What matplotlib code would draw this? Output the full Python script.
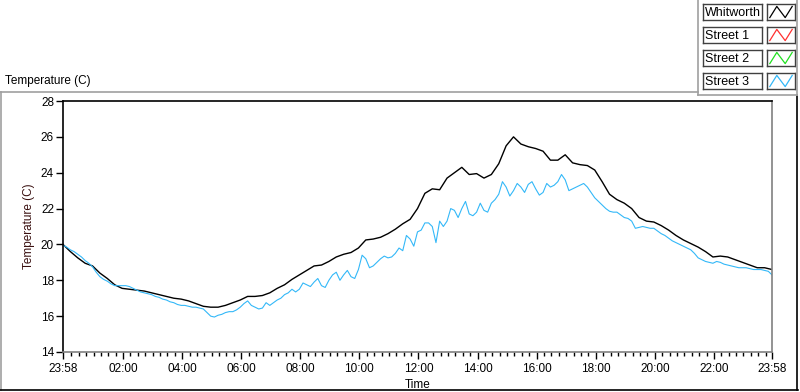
import numpy as np
import matplotlib
matplotlib.use("Agg")
import matplotlib.pyplot as plt
from matplotlib.lines import Line2D

plt.rcParams['font.family'] = ['Liberation Sans', 'DejaVu Sans']

# hours since 23:58, one reading every 15 min
hours = np.arange(0, 24.01, 0.25)

whitworth = [
    20.0, 19.6, 19.25, 18.95, 18.8, 18.4, 18.1, 17.75, 17.55, 17.5,
    17.45, 17.4, 17.3, 17.2, 17.1, 17.0, 16.95, 16.85, 16.7, 16.55,
    16.5, 16.5, 16.6, 16.75, 16.9, 17.1, 17.1, 17.15, 17.3, 17.55,
    17.75, 18.05, 18.3, 18.55, 18.8, 18.85, 19.05, 19.3, 19.45, 19.55,
    19.8, 20.25, 20.3, 20.4, 20.6, 20.85, 21.15, 21.4, 22.0, 22.85,
    23.1, 23.05, 23.7, 24.0, 24.3, 23.9, 23.95, 23.7, 23.9, 24.5,
    25.5, 26.0, 25.6, 25.45, 25.35, 25.2, 24.7, 24.7, 25.0, 24.55,
    24.45, 24.4, 24.15, 23.5, 22.8, 22.5, 22.3, 22.0, 21.5, 21.3,
    21.25, 21.05, 20.8, 20.5, 20.25, 20.05, 19.85, 19.6, 19.3, 19.35,
    19.3, 19.15, 19.0, 18.85, 18.7, 18.7, 18.6,
]

# street 3 on the quarter hours ...
street3 = [
    19.95, 19.7, 19.45, 19.1, 18.75, 18.2, 17.95, 17.7, 17.7, 17.65,
    17.45, 17.3, 17.2, 17.05, 16.9, 16.75, 16.6, 16.55, 16.5, 16.4,
    16.0, 16.05, 16.2, 16.25, 16.5, 16.85, 16.5, 16.45, 16.6, 16.9,
    17.2, 17.5, 17.5, 17.75, 17.9, 17.7, 18.0, 18.45, 18.3, 18.2,
    18.6, 19.2, 18.8, 19.2, 19.25, 19.5, 19.65, 20.3, 20.7, 21.2,
    21.0, 21.3, 21.3, 21.9, 22.0, 21.7, 21.8, 21.9, 22.3, 22.8,
    23.2, 23.0, 23.2, 23.35, 23.1, 22.9, 23.2, 23.5, 23.6, 23.1,
    23.3, 23.2, 22.6, 22.2, 21.85, 21.8, 21.5, 21.3, 20.95, 20.95,
    20.9, 20.6, 20.35, 20.1, 19.9, 19.7, 19.25, 19.05, 18.95, 19.0,
    18.85, 18.75, 18.7, 18.65, 18.6, 18.55, 18.3,
]
# ... and the readings in between (xx:07 / xx:22 / ...)
street3_mid = [
    19.85, 19.6, 19.3, 18.95, 18.45, 18.05, 17.8, 17.7, 17.7, 17.55,
    17.35, 17.25, 17.1, 16.95, 16.8, 16.65, 16.6, 16.5, 16.45, 16.2,
    15.95, 16.1, 16.25, 16.35, 16.7, 16.6, 16.4, 16.75, 16.75, 17.0,
    17.3, 17.35, 17.85, 17.65, 18.1, 17.6, 18.3, 18.0, 18.55, 18.1,
    19.4, 18.7, 19.0, 19.35, 19.3, 19.8, 20.5, 19.9, 20.8, 21.2,
    20.1, 21.0, 22.0, 21.5, 22.4, 21.6, 22.3, 21.8, 22.5, 23.5,
    22.7, 23.4, 22.9, 23.5, 22.75, 23.4, 23.3, 23.9, 23.0, 23.2,
    23.4, 22.9, 22.4, 22.0, 21.8, 21.65, 21.45, 20.9, 21.0, 20.9,
    20.75, 20.5, 20.2, 20.0, 19.8, 19.5, 19.15, 19.0, 19.05, 18.9,
    18.8, 18.7, 18.7, 18.6, 18.6, 18.5,
]

series_names = ["Whitworth", "Street 1", "Street 2", "Street 3"]
series_colors = ["black", "#ff3030", "#20e020", "#33b8f8"]

time_labels = ["23:58", "02:00", "04:00", "06:00", "08:00", "10:00", "12:00",
               "14:00", "16:00", "18:00", "20:00", "22:00", "23:58"]
temp_ticks = [14, 16, 18, 20, 22, 24, 26, 28]

W, H = 800, 392


def px(x, y):
    # pixel coords (top-left origin) -> figure fraction
    return x / W, 1 - y / H


# interleave the street 3 readings
s3_t = np.empty(len(street3) + len(street3_mid))
s3_v = np.empty_like(s3_t)
s3_t[0::2] = hours
s3_t[1::2] = hours[:-1] + 0.125
s3_v[0::2] = street3
s3_v[1::2] = street3_mid

fig = plt.figure(figsize=(8, 3.92), dpi=100)


def frame_line(xs, ys, col):
    fx = [px(x, 0)[0] for x in xs]
    fy = [px(0, y)[1] for y in ys]
    fig.add_artist(Line2D(fx, fy, color=col, lw=1.2, transform=fig.transFigure))


# outer panel frame
frame_line([1, 1], [92, 390], "#a0a0a0")
frame_line([0, 698], [92, 92], "#a0a0a0")
frame_line([0, 798], [390, 390], "black")
frame_line([797, 797], [95, 390], "black")
frame_line([698, 698], [0, 95], "#a0a0a0")
frame_line([698, 797], [95, 95], "#a0a0a0")
frame_line([797, 797], [0, 95], "#a0a0a0")

fig.text(*px(5, 81), "Temperature (C)", fontsize=8.5, va="center", ha="left")

# plot area
x0, y0 = px(63, 352)
x1, y1 = px(772, 101)
ax = fig.add_axes([x0, y0, x1 - x0, y1 - y0])
ax.plot(hours, whitworth, color=series_colors[0], lw=1)
ax.plot(s3_t, s3_v, color=series_colors[3], lw=0.8)

ax.set_xlim(0, 24)
ax.set_ylim(14, 28)
major = [0] + [h + 2 / 60 for h in range(2, 23, 2)] + [24]
ax.set_xticks(major)
ax.set_xticklabels(time_labels)
minor = [m / 4 + 2 / 60 for m in range(1, 96) if m % 8 != 0]
ax.set_xticks(minor, minor=True)
ax.set_yticks(temp_ticks)
ax.tick_params(axis="both", which="major", length=5, width=1, labelsize=8.5,
               direction="out", pad=1.5)
ax.tick_params(axis="x", which="major", pad=3)
ax.tick_params(axis="x", which="minor", length=3, width=1, direction="out")
ax.set_xlabel("Time", fontsize=8.5, labelpad=3)
ax.set_ylabel("Temperature (C)", fontsize=8.5, color="#3a1010", labelpad=4)
for side in ["left", "top"]:
    ax.spines[side].set_color("black")
for side in ["right", "bottom"]:
    ax.spines[side].set_color("#808080")
for sp in ax.spines.values():
    sp.set_linewidth(1.2)

# legend boxes
for i, (name, col) in enumerate(zip(series_names, series_colors)):
    top = 4 + 23 * i
    lx0, ly0 = px(703, top + 16)
    lx1, ly1 = px(762, top)
    lab = fig.add_axes([lx0, ly0, lx1 - lx0, ly1 - ly0])
    lab.set_xticks([])
    lab.set_yticks([])
    for sp in lab.spines.values():
        sp.set_color("#404040")
        sp.set_linewidth(1)
    lab.text(0.03, 0.45, name, fontsize=9, va="center", ha="left",
             transform=lab.transAxes)
    sx0, sy0 = px(767, top + 16)
    sx1, sy1 = px(795, top)
    sw = fig.add_axes([sx0, sy0, sx1 - sx0, sy1 - sy0])
    sw.plot([0.1, 0.35, 0.65, 0.9], [0.15, 0.85, 0.15, 0.85], color=col, lw=0.9)
    sw.set_xlim(0, 1)
    sw.set_ylim(0, 1)
    sw.set_xticks([])
    sw.set_yticks([])
    for sp in sw.spines.values():
        sp.set_color("#404040")
        sp.set_linewidth(1)

fig.savefig("out.png", dpi=100)
